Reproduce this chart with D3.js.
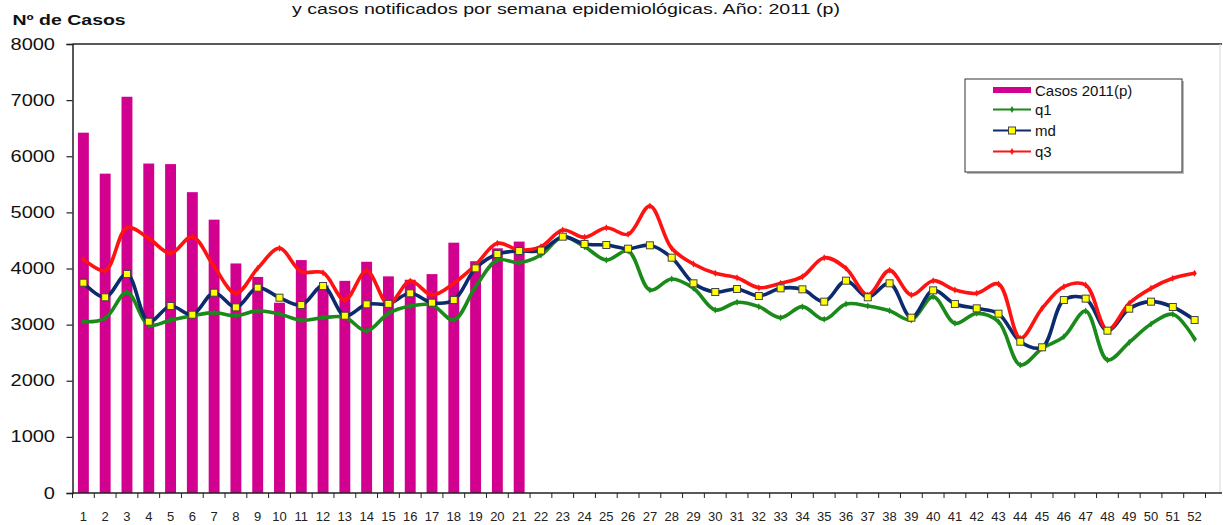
<!DOCTYPE html>
<html>
<head>
<meta charset="utf-8">
<script src="https://cdn.jsdelivr.net/npm/d3@7"></script>
<style>
  body { margin: 0; background: #fff; }
  svg { display: block; font-family: Arial, "Liberation Sans", sans-serif; }
</style>
</head>
<body>
<div id="chart"></div>
<script>
// Semanas epidemiológicas
const weeks = [1, 2, 3, 4, 5, 6, 7, 8, 9, 10, 11, 12, 13, 14, 15, 16, 17, 18, 19, 20,
  21, 22, 23, 24, 25, 26, 27, 28, 29, 30, 31, 32, 33, 34, 35, 36, 37, 38, 39, 40,
  41, 42, 43, 44, 45, 46, 47, 48, 49, 50, 51, 52];

// Casos notificados 2011 (p), semanas 1-21
const casos2011 = [6420, 5690, 7060, 5870, 5860, 5360, 4870, 4090, 3850, 3390, 4150,
  3700, 3780, 4120, 3860, 3800, 3900, 4460, 4130, 4360, 4480];

// Canal endémico: cuartil 1, mediana, cuartil 3
const q1 = [3052, 3112, 3576, 2993, 3082, 3159, 3213, 3159, 3248, 3189,
  3076, 3124, 3130, 2886, 3201, 3332, 3350, 3082, 3676, 4151,
  4104, 4240, 4567, 4389, 4151, 4312, 3617, 3813, 3647, 3261,
  3397, 3320, 3124, 3320, 3094, 3368, 3332, 3246, 3082, 3498,
  3023, 3201, 3052, 2281, 2577, 2786, 3243, 2370, 2685, 3011,
  3184, 2744];
const md = [3747, 3487, 3902, 3052, 3332, 3177, 3569, 3308, 3658, 3480,
  3350, 3688, 3159, 3362, 3370, 3558, 3391, 3439, 4003, 4258,
  4312, 4320, 4567, 4437, 4419, 4353, 4413, 4193, 3736, 3581,
  3635, 3510, 3647, 3629, 3409, 3783, 3487, 3736, 3124, 3611,
  3368, 3290, 3195, 2696, 2596, 3439, 3463, 2892, 3284, 3409,
  3314, 3082];
const q3 = [4169, 3961, 4727, 4537, 4270, 4567, 4033, 3558, 4003, 4360,
  3943, 3925, 3439, 3961, 3368, 3777, 3528, 3736, 4062, 4449,
  4330, 4389, 4686, 4555, 4727, 4609, 5114, 4360, 4080, 3914,
  3836, 3658, 3736, 3854, 4193, 4003, 3528, 3967, 3528, 3783,
  3617, 3558, 3724, 2756, 3290, 3676, 3706, 2904, 3380, 3647,
  3825, 3914];

const yTicks = [0, 1000, 2000, 3000, 4000, 5000, 6000, 7000, 8000];

class CanalChart {
  constructor(_config) {
    this.config = {
      parentElement: _config.parentElement,
      containerWidth: 1223,
      containerHeight: 525,
      plot: { left: 72.5, right: 1205.5, top: 44, bottom: 493, edge: 1222 },
    };
    this.initVis();
  }

  initVis() {
    const vis = this;
    const p = vis.config.plot;

    vis.svg = d3.select(vis.config.parentElement).append('svg')
      .attr('width', vis.config.containerWidth)
      .attr('height', vis.config.containerHeight);

    vis.yScale = d3.scaleLinear().domain([0, 8000]).range([p.bottom, p.top]);

    // band for line points / labels, narrower band for the bars
    vis.xScale = d3.scaleBand().domain(weeks).range([p.left, p.right]);
    vis.xBar = d3.scaleBand().domain(weeks).range([p.left, p.right])
      .paddingInner(0.5).paddingOuter(0.25);
    vis.xEdge = d3.scaleLinear().domain([0, weeks.length]).range([p.left, p.right]);

    vis.cx = (i) => vis.xScale(weeks[i]) + vis.xScale.bandwidth() / 2;

    vis.renderVis();
  }

  renderVis() {
    const vis = this;
    const p = vis.config.plot;

    // title, pushed to the very top edge
    vis.svg.append('text')
      .attr('x', 292).attr('y', 14)
      .attr('font-size', 14).attr('fill', '#111')
      .attr('textLength', 548).attr('lengthAdjust', 'spacingAndGlyphs')
      .text('y casos notificados por semana epidemiológicas.  Año: 2011 (p)');

    vis.svg.append('text')
      .attr('transform', 'translate(12.5,25) scale(1.3,1)')
      .attr('font-size', 15).attr('font-weight', 'bold').attr('fill', '#111')
      .text('Nº de Casos');

    // plot border
    vis.svg.append('line')
      .attr('x1', p.left).attr('x2', p.edge).attr('y1', p.top).attr('y2', p.top)
      .attr('stroke', '#222').attr('stroke-width', 1.5);
    vis.svg.append('line')
      .attr('x1', p.edge - 2).attr('x2', p.edge - 2).attr('y1', p.top).attr('y2', p.bottom)
      .attr('stroke', '#d8d8d8').attr('stroke-width', 1);

    // bars
    vis.svg.append('g').selectAll('rect')
      .data(casos2011)
      .join('rect')
      .attr('x', (d, i) => vis.xBar(weeks[i]))
      .attr('width', vis.xBar.bandwidth())
      .attr('y', (d) => vis.yScale(d))
      .attr('height', (d) => vis.yScale(0) - vis.yScale(d))
      .attr('fill', '#d1008e');

    // y axis
    const yAxisG = vis.svg.append('g')
      .attr('transform', `translate(${p.left},0)`)
      .call(d3.axisLeft(vis.yScale).tickValues(yTicks).tickSize(6).tickFormat(d3.format('d')));
    yAxisG.select('.domain').attr('stroke', '#222').attr('stroke-width', 1.5);
    yAxisG.selectAll('.tick line').attr('stroke', '#222').attr('stroke-width', 1.2);
    yAxisG.selectAll('.tick text')
      .attr('x', -14).attr('transform', 'scale(1.25,1)')
      .attr('font-size', 16).attr('fill', '#111').attr('font-family', null);

    // x axis: line, ticks at band edges, labels at centres
    const xAxisG = vis.svg.append('g').attr('transform', `translate(0,${p.bottom})`);
    xAxisG.append('line')
      .attr('x1', p.left).attr('x2', p.edge)
      .attr('stroke', '#222').attr('stroke-width', 1.5);
    xAxisG.selectAll('.edge-tick')
      .data(d3.range(weeks.length + 1))
      .join('line')
      .attr('class', 'edge-tick')
      .attr('x1', (d) => vis.xEdge(d)).attr('x2', (d) => vis.xEdge(d))
      .attr('y1', 0).attr('y2', 5)
      .attr('stroke', '#222').attr('stroke-width', 1);
    xAxisG.selectAll('.week-label')
      .data(weeks)
      .join('text')
      .attr('class', 'week-label')
      .attr('x', (d) => vis.xScale(d) + vis.xScale.bandwidth() / 2)
      .attr('y', 27.5)
      .attr('text-anchor', 'middle')
      .attr('font-size', 13).attr('fill', '#222')
      .text((d) => d);

    // smoothed lines
    const line = d3.line()
      .x((d, i) => vis.cx(i))
      .y((d) => vis.yScale(d))
      .curve(d3.curveCatmullRom);

    const series = [
      { name: 'q1', values: q1, color: '#1a8a1a' },
      { name: 'md', values: md, color: '#0c2b6e' },
      { name: 'q3', values: q3, color: '#ff1212' },
    ];

    vis.svg.append('g').selectAll('path')
      .data(series)
      .join('path')
      .attr('d', (d) => line(d.values))
      .attr('fill', 'none')
      .attr('stroke', (d) => d.color)
      .attr('stroke-width', 3.6)
      .attr('stroke-linejoin', 'round')
      .attr('stroke-linecap', 'round');

    // small diamond markers for q1 / q3
    [series[0], series[2]].forEach((s) => {
      vis.svg.append('g').selectAll('path')
        .data(s.values)
        .join('path')
        .attr('d', d3.symbol(d3.symbolDiamond, 14))
        .attr('transform', (d, i) => `translate(${vis.cx(i)},${vis.yScale(d)})`)
        .attr('fill', s.color);
    });

    // yellow square markers for the median
    vis.svg.append('g').selectAll('rect')
      .data(md)
      .join('rect')
      .attr('x', (d, i) => vis.cx(i) - 3.5)
      .attr('y', (d) => vis.yScale(d) - 3.5)
      .attr('width', 7).attr('height', 7)
      .attr('fill', '#ffff00')
      .attr('stroke', '#444').attr('stroke-width', 1);

    vis.renderLegend(series);
  }

  renderLegend(series) {
    const vis = this;
    const lg = vis.svg.append('g');

    lg.append('rect')
      .attr('x', 967).attr('y', 81).attr('width', 217).attr('height', 93)
      .attr('fill', '#bbb');
    lg.append('rect')
      .attr('x', 965).attr('y', 79).attr('width', 217).attr('height', 93)
      .attr('fill', '#fff').attr('stroke', '#333').attr('stroke-width', 1);

    const items = [{ name: 'Casos 2011(p)', type: 'bar', color: '#d1008e' }]
      .concat(series.map((s) => ({ name: s.name, type: s.name === 'md' ? 'square' : 'line', color: s.color })));
    const rowY = [90, 109.5, 130.5, 151.5];

    const rows = lg.selectAll('g.item')
      .data(items)
      .join('g')
      .attr('class', 'item')
      .attr('transform', (d, i) => `translate(993,${rowY[i]})`);

    rows.filter((d) => d.type === 'bar').append('rect')
      .attr('x', 0).attr('y', -3).attr('width', 38).attr('height', 6)
      .attr('fill', (d) => d.color);

    rows.filter((d) => d.type !== 'bar').append('line')
      .attr('x1', 0).attr('x2', 38)
      .attr('stroke', (d) => d.color).attr('stroke-width', 2);

    rows.filter((d) => d.type === 'line').append('path')
      .attr('d', d3.symbol(d3.symbolDiamond, 14))
      .attr('transform', 'translate(19,0)')
      .attr('fill', (d) => d.color);

    rows.filter((d) => d.type === 'square').append('rect')
      .attr('x', 15.5).attr('y', -3.5).attr('width', 7).attr('height', 7)
      .attr('fill', '#ffff00').attr('stroke', '#444');

    rows.append('text')
      .attr('x', 42).attr('y', 5.5)
      .attr('font-size', 15).attr('fill', '#111')
      .text((d) => d.name);
  }
}

const chart = new CanalChart({ parentElement: '#chart' });
</script>
</body>
</html>
